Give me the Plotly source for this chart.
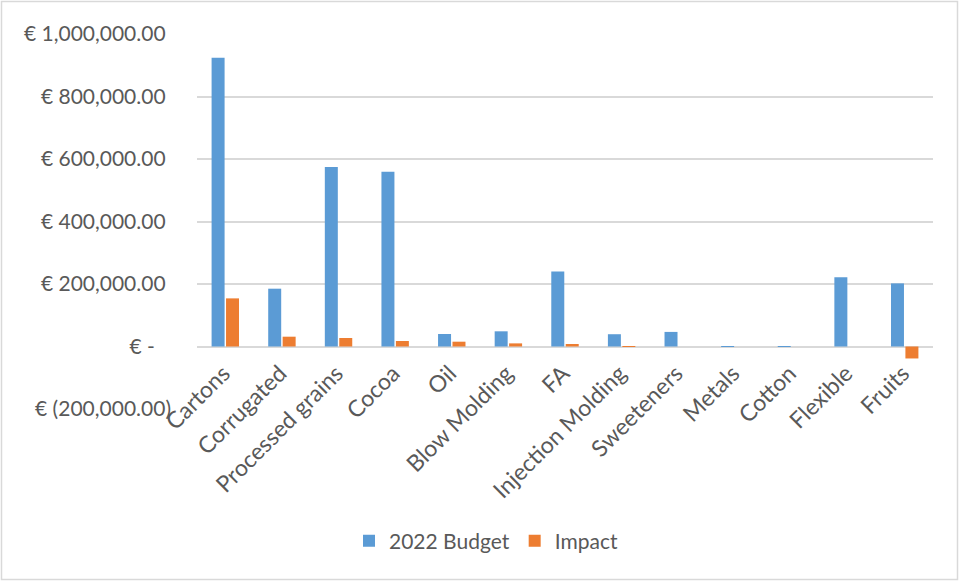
import plotly.graph_objects as go

categories = ["Cartons", "Corrugated", "Processed grains", "Cocoa", "Oil",
              "Blow Molding", "FA", "Injection Molding", "Sweeteners",
              "Metals", "Cotton", "Flexible", "Fruits"]
budget_2022 = [924000, 185000, 574500, 559000, 40000, 48600, 240000,
               39300, 46700, 400, 600, 221500, 202000]
impact = [154000, 31400, 27200, 17600, 15400, 10000, 8000,
          600, 0, 0, 0, 0, -38300]

tick_vals = [1000000, 800000, 600000, 400000, 200000, 0, -200000]
tick_text = ["€ 1,000,000.00\u00a0", "€ 800,000.00\u00a0", "€ 600,000.00\u00a0",
             "€ 400,000.00\u00a0", "€ 200,000.00\u00a0", "€ -\u00a0\u00a0\u00a0",
             "€ (200,000.00)"]

FONT = "Lato, Calibri, 'Open Sans', sans-serif"
TXT = "#595959"
FS = 21

fig = go.Figure()
fig.add_trace(go.Bar(x=categories, y=budget_2022, name="2022 Budget",
                     marker=dict(color="#5b9bd5", line=dict(width=0))))
fig.add_trace(go.Bar(x=categories, y=impact, name="Impact",
                     marker=dict(color="#ed7d31", line=dict(width=0))))

# plot area: x 197..933 px, y 34..409 px
L, R, T, B = 197, 28, 34, 172
W, H = 961, 581
pw, ph = W - L - R, H - T - B

def px_x(p):
    return (p - L) / pw

def px_y(p):
    return (H - B - p) / ph

fig.update_layout(
    width=W, height=H,
    margin=dict(l=L, r=R, t=T, b=B, pad=0),
    paper_bgcolor="white", plot_bgcolor="white",
    font=dict(family=FONT, color=TXT, size=FS),
    barmode="group", bargap=0.49, bargroupgap=0.1,
    showlegend=True,
    legend=dict(orientation="h", x=px_x(486), xanchor="center",
                y=px_y(541), yanchor="middle",
                font=dict(family=FONT, size=FS, color=TXT),
                itemwidth=30, tracegroupgap=0),
    xaxis=dict(anchor="free", position=200000 / 1200000,
               showline=False, showgrid=False, ticks="",
               tickangle=-45, tickfont=dict(family=FONT, size=23, color=TXT),
               ticklabelstandoff=8, ticklabelshift=-2),
    yaxis=dict(range=[-200000, 1000000], tickvals=tick_vals, ticktext=tick_text,
               showgrid=True, gridcolor="#d9d9d9", gridwidth=1.5,
               zeroline=True, zerolinecolor="#d9d9d9", zerolinewidth=1.5,
               showline=False, ticks="", ticklabelstandoff=25,
               tickfont=dict(family=FONT, size=FS, color=TXT)),
    shapes=[dict(type="rect", xref="paper", yref="paper",
                 x0=px_x(1.5), x1=px_x(957.5), y0=px_y(579.5), y1=px_y(1.5),
                 line=dict(color="#d9d9d9", width=1.5), fillcolor="rgba(0,0,0,0)",
                 layer="below")],
)

fig.write_html("out.html")
